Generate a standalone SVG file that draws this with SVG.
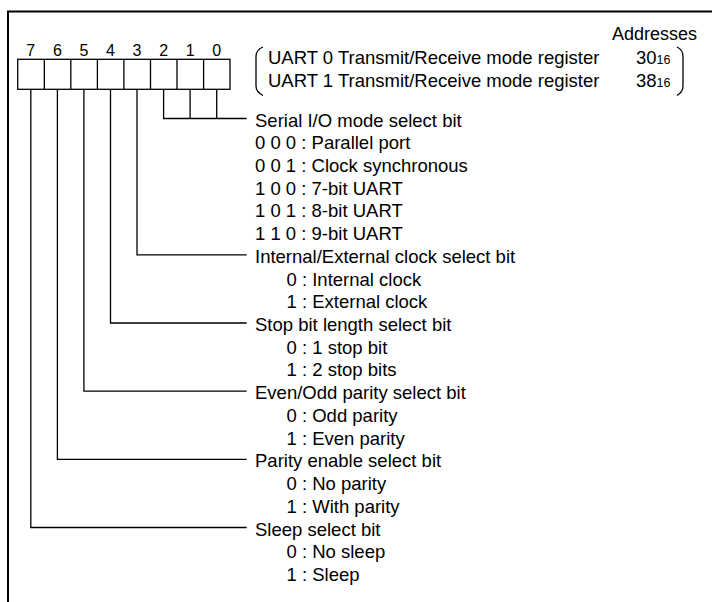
<svg xmlns="http://www.w3.org/2000/svg" width="712" height="602" viewBox="0 0 712 602">
<style>
text{font-family:"Liberation Sans",Arial,sans-serif;font-size:18.5px;fill:#000}
.addr{font-size:18px}
.bitnum{font-size:16px;text-anchor:middle}
.sub{font-size:12.5px}
.ln{fill:none;stroke:#000;stroke-width:1.3}
.cell{fill:#fff;stroke:#000;stroke-width:1.3}
.frame{fill:none;stroke:#000;stroke-width:2}
</style>
<rect width="712" height="602" fill="#fff"/>
<path class="frame" d="M8,602 V11.5 H712"/>
<g id="register">
  <g class="bitnum-group">
    <text class="bitnum" x="30.8" y="56">7</text>
    <text class="bitnum" x="57.4" y="56">6</text>
    <text class="bitnum" x="83.9" y="56">5</text>
    <text class="bitnum" x="110.5" y="56">4</text>
    <text class="bitnum" x="137" y="56">3</text>
    <text class="bitnum" x="163.6" y="56">2</text>
    <text class="bitnum" x="190.1" y="56">1</text>
    <text class="bitnum" x="216.7" y="56">0</text>
  </g>
  <rect class="cell" x="17.7" y="59.3" width="212.3" height="30"/>
  <path class="ln" d="M44.3,59.3V89.3M70.8,59.3V89.3M97.4,59.3V89.3M123.9,59.3V89.3M150.5,59.3V89.3M177,59.3V89.3M203.6,59.3V89.3"/>
</g>
<g id="header">
  <text class="addr" x="697" y="40" text-anchor="end">Addresses</text>
  <path class="ln" d="M263,47 Q256,50 256,56 L256,86 Q256,92 263,95.5"/>
  <path class="ln" d="M677,47 Q683,50 683,56 L683,86 Q683,92 677,95.5"/>
  <text x="268" y="64.3">UART 0 Transmit/Receive mode register</text>
  <text x="636" y="64.3">30<tspan class="sub">16</tspan></text>
  <text x="268" y="87.3">UART 1 Transmit/Receive mode register</text>
  <text x="636" y="87.3">38<tspan class="sub">16</tspan></text>
</g>
<g id="connectors">
  <path class="ln" d="M163.6,89.3V118.5H246.7M190.1,89.3V118.5M216.7,89.3V118.5"/>
  <path class="ln" d="M137,89.3V254.8H246.7"/>
  <path class="ln" d="M110.5,89.3V323H246.7"/>
  <path class="ln" d="M83.9,89.3V391.1H246.7"/>
  <path class="ln" d="M57.4,89.3V459.3H246.7"/>
  <path class="ln" d="M30.8,89.3V527.5H246.7"/>
</g>
<g id="serial-mode">
  <text x="255" y="126.5">Serial I/O mode select bit</text>
  <text x="255" y="149.2">0 0 0 : Parallel port</text>
  <text x="255" y="171.9">0 0 1 : Clock synchronous</text>
  <text x="255" y="194.7">1 0 0 : 7-bit UART</text>
  <text x="255" y="217.4">1 0 1 : 8-bit UART</text>
  <text x="255" y="240.1">1 1 0 : 9-bit UART</text>
</g>
<g id="clock-select">
  <text x="255" y="262.8">Internal/External clock select bit</text>
  <text x="286.5" y="285.5">0 : Internal clock</text>
  <text x="286.5" y="308.3">1 : External clock</text>
</g>
<g id="stop-bit">
  <text x="255" y="331">Stop bit length select bit</text>
  <text x="286.5" y="353.7">0 : 1 stop bit</text>
  <text x="286.5" y="376.4">1 : 2 stop bits</text>
</g>
<g id="parity-select">
  <text x="255" y="399.1">Even/Odd parity select bit</text>
  <text x="286.5" y="421.9">0 : Odd parity</text>
  <text x="286.5" y="444.6">1 : Even parity</text>
</g>
<g id="parity-enable">
  <text x="255" y="467.3">Parity enable select bit</text>
  <text x="286.5" y="490">0 : No parity</text>
  <text x="286.5" y="512.7">1 : With parity</text>
</g>
<g id="sleep">
  <text x="255" y="535.5">Sleep select bit</text>
  <text x="286.5" y="558.2">0 : No sleep</text>
  <text x="286.5" y="580.9">1 : Sleep</text>
</g>
</svg>
